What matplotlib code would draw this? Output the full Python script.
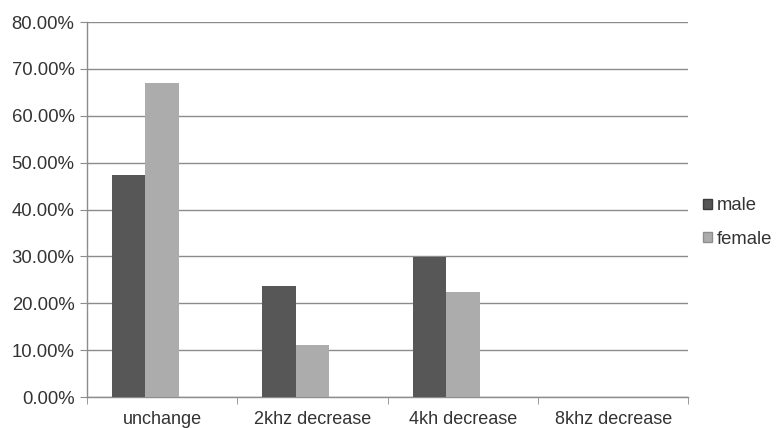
import matplotlib.pyplot as plt
import numpy as np
from matplotlib.patches import Patch
from matplotlib.ticker import FuncFormatter

plt.rcParams['font.family'] = ['Liberation Sans', 'DejaVu Sans']

categories = ['unchange', '2khz decrease', '4kh decrease', '8khz decrease']
male = [47.4, 23.6, 29.8, 0.0]
female = [66.9, 11.1, 22.4, 0.0]

male_color = '#575757'
female_color = '#acacac'
text_color = '#333333'
grid_color = '#8c8c8c'

fig = plt.figure(figsize=(7.84, 4.28), dpi=100)
ax = fig.add_axes([0.111, 0.0724, 0.767, 0.876])

x = np.arange(len(categories))
w = 0.223

# bars sit left of centre (excel style, room for an empty third series)
ax.bar(x - w, male, w, color=male_color, edgecolor='none', zorder=3)
ax.bar(x, female, w, color=female_color, edgecolor='none', zorder=3)

ax.set_ylim(0, 80)
ax.set_xlim(-0.5, 3.5)
ax.set_yticks(np.arange(0, 81, 10))
ax.yaxis.set_major_formatter(FuncFormatter(lambda v, p: '%.2f%%' % v))
ax.yaxis.grid(True, color=grid_color, linewidth=1.0, zorder=0)

ax.set_xticks(x)
ax.set_xticklabels(categories)
ax.set_xticks(np.arange(-0.5, 3.6, 1), minor=True)
ax.tick_params(axis='x', which='major', length=0, pad=10, labelsize=13, labelcolor=text_color)
ax.tick_params(axis='x', which='minor', length=5, color=grid_color, direction='out')
ax.tick_params(axis='y', length=5, color=grid_color, labelsize=13.3, labelcolor=text_color, pad=4)

for s in ['top', 'right']:
    ax.spines[s].set_visible(False)
for s in ['left', 'bottom']:
    ax.spines[s].set_color(grid_color)
    ax.spines[s].set_linewidth(1.0)

handles = [Patch(facecolor=male_color, edgecolor='#3c3c3c', label='male'),
           Patch(facecolor=female_color, edgecolor='#8e8e8e', label='female')]
fig.legend(handles=handles, loc='center left', bbox_to_anchor=(0.897, 0.48),
           frameon=False, fontsize=13.3, handlelength=0.45, handleheight=0.45,
           handletextpad=0.3, labelspacing=0.9, labelcolor=text_color,
           borderaxespad=0, borderpad=0)

fig.savefig('out.png', dpi=100)
